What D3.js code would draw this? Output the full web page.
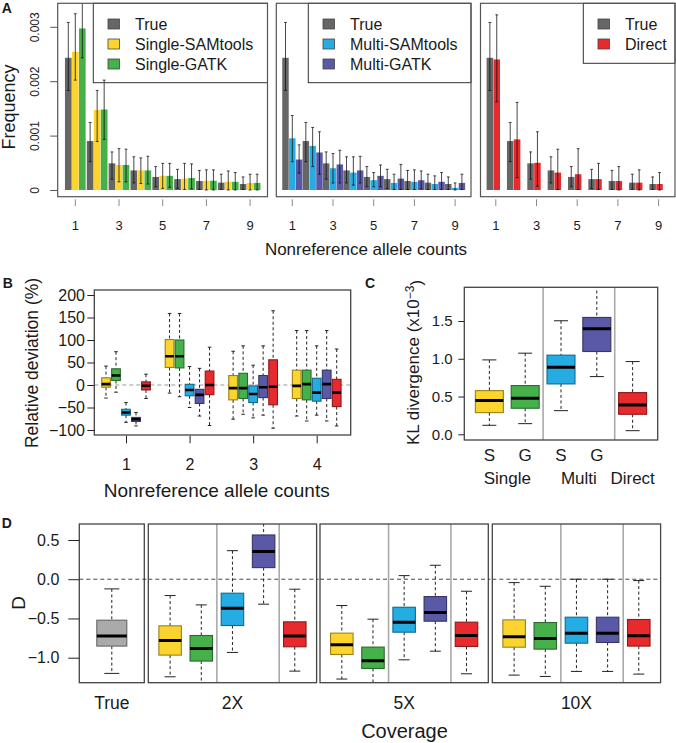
<!DOCTYPE html>
<meta charset="utf-8">
<style>
body { margin: 0; background: #fff; }
svg text { font-family: "Liberation Sans", Arial, Helvetica, sans-serif; fill: #1a1a1a; }
</style>
<body>
<svg id="fig" width="676" height="743"></svg>
<script src="https://d3js.org/d3.v7.min.js"></script>
<script>
// ---------------- data ----------------
var alleleCounts = [1, 2, 3, 4, 5, 6, 7, 8, 9];
var axisCounts = [1, 3, 5, 7, 9];

// panel A, frequency in units of 1e-3 (value, lower and upper end of error bar)
var freqTrue     = [2.43, 0.90, 0.49, 0.36, 0.24, 0.20, 0.165, 0.135, 0.11];
var freqTrueLo   = [1.83, 0.52, 0.20, 0.13, 0.06, 0.03, 0.01, 0.01, 0.01];
var freqTrueHi   = [3.08, 1.24, 0.70, 0.61, 0.43, 0.38, 0.36, 0.29, 0.24];
var freqSSam     = [2.54, 1.47, 0.46, 0.36, 0.26, 0.21, 0.17, 0.15, 0.13];
var freqSSamLo   = [2.02, 0.89, 0.15, 0.12, 0.03, 0.01, 0, 0, 0];
var freqSSamHi   = [3.24, 1.83, 0.76, 0.59, 0.49, 0.49, 0.37, 0.35, 0.29];
var freqSGatk    = [2.97, 1.48, 0.46, 0.36, 0.26, 0.22, 0.17, 0.15, 0.13];
var freqSGatkLo  = [2.43, 0.93, 0.15, 0.11, 0.05, 0.02, 0, 0, 0];
var freqSGatkHi  = [3.55, 2.02, 0.75, 0.62, 0.49, 0.48, 0.37, 0.32, 0.29];
var freqMSam     = [0.95, 0.81, 0.40, 0.32, 0.18, 0.13, 0.15, 0.11, 0.04];
var freqMSamLo   = [0.52, 0.43, 0.13, 0.09, 0.06, 0.01, 0.01, 0.01, 0];
var freqMSamHi   = [1.37, 1.15, 0.67, 0.61, 0.32, 0.29, 0.37, 0.26, 0.13];
var freqMGatk    = [0.56, 0.69, 0.47, 0.36, 0.26, 0.21, 0.18, 0.15, 0.13];
var freqMGatkLo  = [0.31, 0.29, 0.13, 0.13, 0.06, 0.01, 0.02, 0.01, 0.01];
var freqMGatkHi  = [0.83, 1.07, 0.73, 0.62, 0.46, 0.47, 0.35, 0.32, 0.29];
var freqDirect   = [2.40, 0.93, 0.50, 0.32, 0.29, 0.20, 0.165, 0.135, 0.11];
var freqDirectLo = [1.62, 0.23, 0.07, 0.01, 0.01, 0.01, 0, 0, 0];
var freqDirectHi = [3.22, 1.61, 1.07, 0.75, 0.76, 0.49, 0.43, 0.37, 0.32];
var freqTicks = [0, 1, 2, 3];

// panel B, relative deviation (%) boxes: [low whisker, Q1, median, Q3, high whisker], counts 1..4
var bCounts = [1, 2, 3, 4];
var devSSam  = [[-29, -5, 2, 16, 42], [-18, 39, 64, 101, 159], [-76, -33, -7, 21, 75], [-69, -30, -2, 33, 121]];
var devSGatk = [[-16, 10, 21, 36, 74], [-26, 38, 64, 100, 159], [-65, -30, -7, 26, 87], [-80, -33, 2, 33, 121]];
var devMSam  = [[-83, -67, -61, -54, -39], [-50, -24, -11, 1.5, 41], [-73, -39, -20, -2, 44], [-67, -36, -17, 15, 87]];
var devMGatk = [[-91, -81, -76, -72, -61], [-69, -41, -22, -9.6, 37], [-67, -28, -5, 21, 87], [-80, -30, 2, 33, 121]];
var devDirect = [[-30, -11, -1.5, 7, 24], [-90, -21.5, 0, 31, 84], [-96, -44, -4, 56, 165], [-91, -48, -17, 12.6, 80]];
var devTicks = [-100, -50, 0, 50, 100, 150, 200];

// panel C, KL divergence (x1e-3)
var klSSam   = [0.119, 0.287, 0.446, 0.578, 0.985];
var klSGatk  = [0.141, 0.345, 0.477, 0.645, 1.074];
var klMSam   = [0.313, 0.667, 0.889, 1.048, 1.503];
var klMGatk  = [0.764, 1.096, 1.397, 1.547, 2.05];
var klDirect = [0.048, 0.265, 0.389, 0.552, 0.963];
var klLabels = ["S", "G", "S", "G", ""];
var klGroups = ["Single", "Multi", "Direct"];
var klTicks = [0, 0.5, 1, 1.5];

// panel D, Tajima's D by coverage
var coverages = ["2X", "5X", "10X"];
var dTrue = [-1.20, -0.852, -0.725, -0.522, -0.123];
var dSSam  = [[-1.243, -0.967, -0.781, -0.594, -0.208], [-1.272, -0.959, -0.836, -0.687, -0.335], [-1.222, -0.866, -0.734, -0.518, -0.043]];
var dSGatk = [[-1.40, -1.043, -0.883, -0.717, -0.327], [-1.40, -1.137, -1.039, -0.865, -0.509], [-1.239, -0.891, -0.755, -0.552, -0.090]];
var dMSam  = [[-0.933, -0.590, -0.369, -0.178, 0.364], [-1.027, -0.675, -0.547, -0.357, 0.046], [-1.175, -0.815, -0.687, -0.484, 0.0]];
var dMGatk = [[-0.318, 0.148, 0.352, 0.564, 0.85], [-0.917, -0.535, -0.425, -0.221, 0.178], [-1.175, -0.806, -0.687, -0.484, 0.0]];
var dDirect = [[-1.171, -0.861, -0.725, -0.543, -0.127], [-1.205, -0.857, -0.717, -0.547, -0.153], [-1.209, -0.852, -0.721, -0.513, -0.017]];
var dTicks = [-1, -0.5, 0, 0.5];

var methods = ["Single-SAMtools", "Single-GATK", "Multi-SAMtools", "Multi-GATK", "Direct"];
var methodColors = ["#FBD52E", "#46B04A", "#25ACE3", "#5A59A8", "#E62A2D"];
var trueColor = "#666666";
var trueBoxColor = "#AAAAAA";

// ---------------- helpers ----------------
var svg = d3.select("#fig");
var clipN = 0;

function label(g, x, y, s, size, anchor, weight) {
  return g.append("text").attr("x", x).attr("y", y).attr("dy", "0.35em")
    .attr("text-anchor", anchor || "middle")
    .style("font-size", size + "px").style("font-weight", weight || "normal").text(s);
}
function vlabel(g, x, y, s, size) {
  return g.append("text").attr("transform", "translate(" + x + "," + y + ") rotate(-90)")
    .attr("dy", "0.35em").attr("text-anchor", "middle").style("font-size", size + "px").text(s);
}
function frame(g, x0, x1, y0, y1, col, w) {
  g.append("rect").attr("x", x0).attr("y", y0).attr("width", x1 - x0).attr("height", y1 - y0)
    .attr("fill", "none").attr("stroke", col || "#333").attr("stroke-width", w || 1.3);
}
function clipped(g, x0, x1, y0, y1) {
  var id = "clip" + (clipN++);
  svg.append("clipPath").attr("id", id).append("rect")
    .attr("x", x0).attr("y", y0).attr("width", x1 - x0).attr("height", y1 - y0);
  return g.append("g").attr("clip-path", "url(#" + id + ")");
}
function styleAxis(ax, size, col) {
  ax.attr("font-family", null).attr("font-size", null);
  ax.select(".domain").remove();
  ax.selectAll(".tick line").attr("stroke", col || "#222");
  ax.selectAll(".tick text").style("font-size", size + "px");
}
// one box-and-whisker
function drawBox(g, y, cx, w, s, color, capW, medW) {
  var dash = "3,2.5";
  g.append("line").attr("x1", cx).attr("x2", cx).attr("y1", y(s[4])).attr("y2", y(s[3]))
    .attr("stroke", "#222").attr("stroke-width", 1).attr("stroke-dasharray", dash);
  g.append("line").attr("x1", cx).attr("x2", cx).attr("y1", y(s[1])).attr("y2", y(s[0]))
    .attr("stroke", "#222").attr("stroke-width", 1).attr("stroke-dasharray", dash);
  [s[0], s[4]].forEach(function(v) {
    g.append("line").attr("x1", cx - capW / 2).attr("x2", cx + capW / 2).attr("y1", y(v)).attr("y2", y(v))
      .attr("stroke", "#222").attr("stroke-width", 1);
  });
  g.append("rect").attr("x", cx - w / 2).attr("y", y(s[3])).attr("width", w).attr("height", y(s[1]) - y(s[3]))
    .attr("fill", color).attr("stroke", d3.color(color).darker(1.4)).attr("stroke-width", 1.1);
  g.append("line").attr("x1", cx - w / 2).attr("x2", cx + w / 2).attr("y1", y(s[2])).attr("y2", y(s[2]))
    .attr("stroke", "#000").attr("stroke-width", medW);
}

// ---------------- panel A ----------------
var gA = svg.append("g");
var aTop = 3.3, aBot = 196.7;
var yA = d3.scaleLinear().domain([0, 3]).range([190, 26.8]);

var seriesTrue = {name: "True", color: trueColor, v: freqTrue, lo: freqTrueLo, hi: freqTrueHi};
var panelsA = [
  {x0: 57.7, x1: 267.5, c1: 75.3, step: 21.85, barStep: 6.9, legX: 93.3, legBot: 82.7, sqX: 108, txX: 135, shift: 0,
   series: [seriesTrue,
            {name: methods[0], color: methodColors[0], v: freqSSam, lo: freqSSamLo, hi: freqSSamHi},
            {name: methods[1], color: methodColors[1], v: freqSGatk, lo: freqSGatkLo, hi: freqSGatkHi}]},
  {x0: 276.3, x1: 471, c1: 292.3, step: 20.35, barStep: 6.7, legX: 308.3, legBot: 82.7, sqX: 323, txX: 350, shift: 0,
   series: [seriesTrue,
            {name: methods[2], color: methodColors[2], v: freqMSam, lo: freqMSamLo, hi: freqMSamHi},
            {name: methods[3], color: methodColors[3], v: freqMGatk, lo: freqMGatkLo, hi: freqMGatkHi}]},
  {x0: 480.5, x1: 675, c1: 493.3, step: 20.35, barStep: 6.7, legX: 583.3, legBot: 63.3, sqX: 598, txX: 625, shift: 2.5,
   series: [seriesTrue,
            {name: methods[4], color: methodColors[4], v: freqDirect, lo: freqDirectLo, hi: freqDirectHi}]}
];

panelsA.forEach(function(p) {
  var n = p.series.length;
  var xg = d3.scaleBand().domain(alleleCounts).range([p.c1 - p.step / 2, p.c1 - p.step / 2 + 9 * p.step]);
  var xs = d3.scaleBand().domain(p.series.map(function(s) { return s.name; }))
    .range([-n * p.barStep / 2, n * p.barStep / 2]).paddingInner(0.05);
  var inner = clipped(gA, p.x0, p.x1, aTop, aBot);

  p.series.forEach(function(s) {
    inner.selectAll(null).data(alleleCounts).enter().append("rect")
      .attr("x", function(c) { return xg(c) + xg.bandwidth() / 2 + xs(s.name); })
      .attr("width", xs.bandwidth())
      .attr("y", function(c, i) { return yA(s.v[i]); })
      .attr("height", function(c, i) { return yA(0) - yA(s.v[i]); })
      .attr("fill", s.color);
  });
  p.series.forEach(function(s) {
    alleleCounts.forEach(function(c, i) {
      var cx = xg(c) + xg.bandwidth() / 2 + xs(s.name) + xs.bandwidth() / 2;
      inner.append("line").attr("x1", cx).attr("x2", cx).attr("y1", yA(s.lo[i])).attr("y2", yA(s.hi[i]))
        .attr("stroke", "#111").attr("stroke-width", 0.9).attr("opacity", 0.85);
      [s.lo[i], s.hi[i]].forEach(function(v) {
        inner.append("line").attr("x1", cx - 1.4).attr("x2", cx + 1.4).attr("y1", yA(v)).attr("y2", yA(v))
          .attr("stroke", "#111").attr("stroke-width", 0.9).attr("opacity", 0.85);
      });
    });
  });

  // legend
  gA.append("rect").attr("x", p.legX).attr("y", aTop).attr("width", p.x1 - p.legX).attr("height", p.legBot - aTop)
    .attr("fill", "none").attr("stroke", "#333").attr("stroke-width", 1);
  p.series.forEach(function(s, i) {
    var ry = 24 + i * 20;
    gA.append("rect").attr("x", p.sqX).attr("y", ry - 5).attr("width", 11.5).attr("height", 10)
      .attr("fill", s.color).attr("stroke", "#444").attr("stroke-width", 0.8);
    label(gA, p.txX, ry, s.name, 16, "start");
  });

  frame(gA, p.x0, p.x1, aTop, aBot, "#555", 1.2);

  var ax = gA.append("g").attr("transform", "translate(" + p.shift + "," + 199.3 + ")")
    .call(d3.axisBottom(xg).tickValues(axisCounts).tickSize(6.7).tickPadding(14.5));
  styleAxis(ax, 13, "#888");
});

var axA = gA.append("g").attr("transform", "translate(57.7,0)")
  .call(d3.axisLeft(yA).tickValues(freqTicks).tickSize(7.5)
    .tickFormat(function(d) { return d === 0 ? "0" : d3.format(".3f")(d / 1000); }));
styleAxis(axA, 12, "#555");
axA.selectAll(".tick text").attr("transform", "rotate(-90)").attr("x", 0).attr("y", -22.7)
  .attr("dy", "0.35em").attr("text-anchor", "middle");

vlabel(gA, 8.5, 107, "Frequency", 18);
label(gA, 366, 249, "Nonreference allele counts", 17);
label(gA, 1.7, 8.5, "A", 14, "start", "bold");

// ---------------- panel B ----------------
var gB = svg.append("g");
var bx0 = 94.3, bx1 = 350.7, by0 = 290, by1 = 435;
var yB = d3.scaleLinear().domain([-100, 200]).range([430, 295]);
var xB = d3.scaleLinear().domain([1, 4]).range([126, 316.7]);
var xBin = d3.scaleBand().domain(methods).range([-24.5, 24.5]).paddingInner(0.1);
var devSets = [devSSam, devSGatk, devMSam, devMGatk, devDirect];

var bIn = clipped(gB, bx0, bx1, by0, by1);
bIn.append("line").attr("x1", bx0).attr("x2", bx1).attr("y1", yB(0)).attr("y2", yB(0))
  .attr("stroke", "#999").attr("stroke-width", 1).attr("stroke-dasharray", "4,3");
bCounts.forEach(function(c, ci) {
  methods.forEach(function(m, mi) {
    var cx = xB(c) + xBin(m) + xBin.bandwidth() / 2;
    drawBox(bIn, yB, cx, xBin.bandwidth() - 0.3, devSets[mi][ci], methodColors[mi], 3.5, 2.6);
  });
});
frame(gB, bx0, bx1, by0, by1, "#444", 1.3);
var axBy = gB.append("g").attr("transform", "translate(" + bx0 + ",0)")
  .call(d3.axisLeft(yB).tickValues(devTicks).tickSize(7).tickPadding(2.3));
styleAxis(axBy, 16);
var axBx = gB.append("g").attr("transform", "translate(0," + (by1 + 0.7) + ")")
  .call(d3.axisBottom(xB).tickValues(bCounts).tickSize(7.6).tickPadding(15).tickFormat(d3.format("d")));
styleAxis(axBx, 16);
vlabel(gB, 31.7, 363, "Relative deviation (%)", 17.5);
label(gB, 216.7, 490, "Nonreference allele counts", 19);
label(gB, 2.7, 283.3, "B", 14, "start", "bold");

// ---------------- panel C ----------------
var gC = svg.append("g");
var cx0 = 464.3, cx1 = 657.7, cy0 = 287.3, cy1 = 440;
var yC = d3.scaleLinear().domain([0, 1.5]).range([434.3, 321]);
var xC = d3.scaleLinear().domain([0.3, 5.7]).range([cx0, cx1]);
var klSets = [klSSam, klSGatk, klMSam, klMGatk, klDirect];
var cIn = clipped(gC, cx0, cx1, cy0, cy1);
[2.5, 4.5].forEach(function(v) {
  cIn.append("line").attr("x1", xC(v)).attr("x2", xC(v)).attr("y1", cy0).attr("y2", cy1)
    .attr("stroke", "#aaa").attr("stroke-width", 1.6);
});
klSets.forEach(function(s, i) {
  drawBox(cIn, yC, xC(i + 1), 28, s, methodColors[i], 14, 3);
});
frame(gC, cx0, cx1, cy0, cy1, "#444", 1.3);
var axC = gC.append("g").attr("transform", "translate(" + cx0 + ",0)")
  .call(d3.axisLeft(yC).tickValues(klTicks).tickSize(6).tickPadding(5.6).tickFormat(d3.format(".1f")));
styleAxis(axC, 15);
klLabels.forEach(function(s, i) { if (s) label(gC, xC(i + 1), 455, s, 17); });
label(gC, xC(1.5), 478.3, klGroups[0], 17);
label(gC, xC(3.5), 478.3, klGroups[1], 17);
label(gC, xC(5), 478.3, klGroups[2], 17);
var kl = gC.append("text").attr("transform", "translate(413.3,362.5) rotate(-90)")
  .attr("dy", "0.35em").attr("text-anchor", "middle").style("font-size", "17px");
kl.append("tspan").text("KL divergence (x10");
kl.append("tspan").attr("dy", "-0.45em").style("font-size", "12px").text("\u22123");
kl.append("tspan").attr("dy", "0.45em").text(")");
label(gC, 365, 283.3, "C", 14, "start", "bold");

// ---------------- panel D ----------------
var gD = svg.append("g");
var dy0 = 524, dy1 = 682.7;
var yD = d3.scaleLinear().domain([-1, 0.5]).range([657.7, 540]);
var dSets = [dSSam, dSGatk, dMSam, dMGatk, dDirect];

// True frame
var tx0 = 79.3, tx1 = 144.3;
var xT = d3.scaleLinear().domain([0.46, 1.54]).range([tx0, tx1]);
var tIn = clipped(gD, tx0, tx1, dy0, dy1);
tIn.append("line").attr("x1", tx0).attr("x2", tx1).attr("y1", yD(0)).attr("y2", yD(0))
  .attr("stroke", "#333").attr("stroke-width", 0.9).attr("stroke-dasharray", "4,3");
drawBox(tIn, yD, xT(1), 30, dTrue, trueBoxColor, 15, 3);
frame(gD, tx0, tx1, dy0, dy1, "#444", 1.3);
label(gD, xT(1), 702.7, "True", 17.5);

var covX0 = [148.3, 320, 492.3];
coverages.forEach(function(cov, ci) {
  var fx0 = covX0[ci], fx1 = fx0 + 168.3;
  var xF = d3.scaleLinear().domain([0.3, 5.7]).range([fx0, fx1]);
  var fIn = clipped(gD, fx0, fx1, dy0, dy1);
  [2.5, 4.5].forEach(function(v) {
    fIn.append("line").attr("x1", xF(v)).attr("x2", xF(v)).attr("y1", dy0).attr("y2", dy1)
      .attr("stroke", "#aaa").attr("stroke-width", 1.6);
  });
  fIn.append("line").attr("x1", fx0).attr("x2", fx1).attr("y1", yD(0)).attr("y2", yD(0))
    .attr("stroke", "#333").attr("stroke-width", 0.9).attr("stroke-dasharray", "4,3");
  dSets.forEach(function(set, mi) {
    drawBox(fIn, yD, xF(mi + 1), 22.5, set[ci], methodColors[mi], 11, 3);
  });
  frame(gD, fx0, fx1, dy0, dy1, "#444", 1.3);
  label(gD, (fx0 + fx1) / 2, 702.7, cov, 17.5);
});
// dashed line across gaps between frames
[[144.3, 148.3], [316.6, 320], [488.3, 492.3]].forEach(function(r) {
  gD.append("line").attr("x1", r[0]).attr("x2", r[1]).attr("y1", yD(0)).attr("y2", yD(0))
    .attr("stroke", "#333").attr("stroke-width", 0.9).attr("stroke-dasharray", "2,2");
});
var axD = gD.append("g").attr("transform", "translate(" + tx0 + ",0)")
  .call(d3.axisLeft(yD).tickValues(dTicks).tickSize(11).tickPadding(9).tickFormat(d3.format(".1f")));
styleAxis(axD, 16);
vlabel(gD, 18, 603, "D", 19);
label(gD, 404.5, 730.7, "Coverage", 20);
label(gD, 1.7, 523.5, "D", 14, "start", "bold");
</script>
</body>
